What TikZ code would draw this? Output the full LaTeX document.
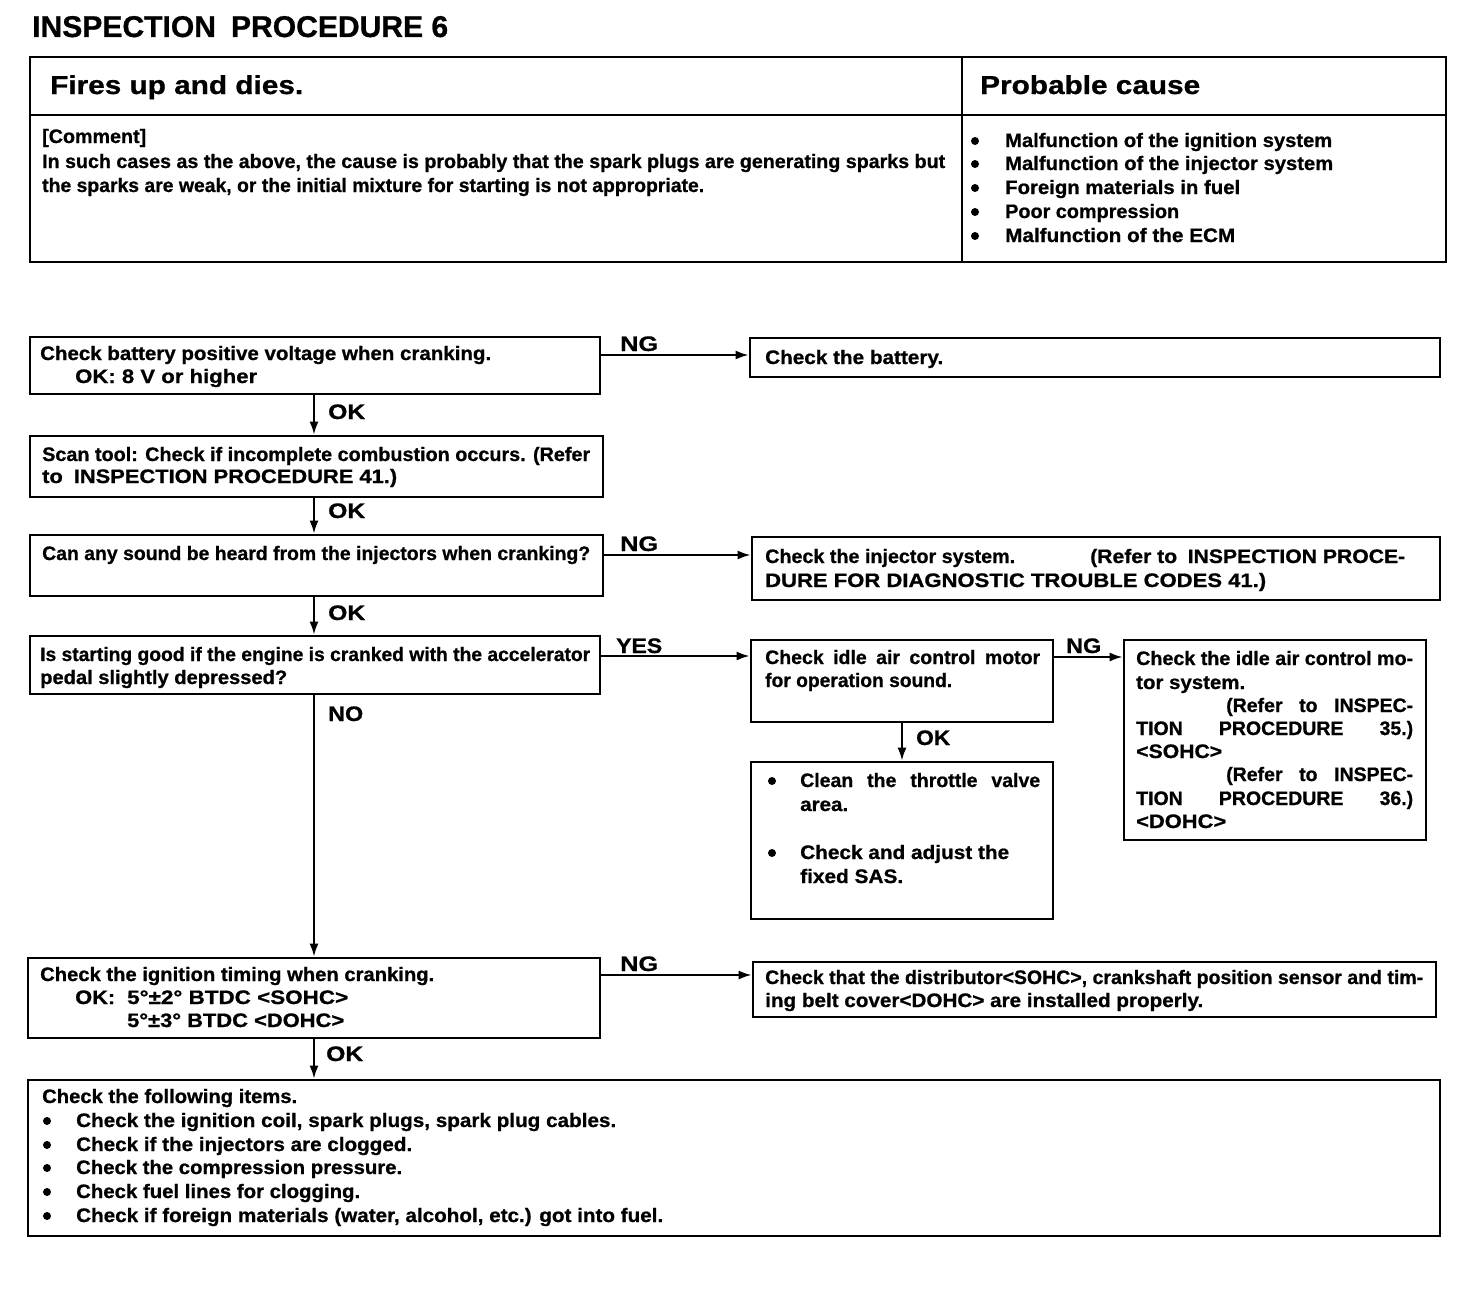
\documentclass[tikz,border=0pt]{standalone}
\usepackage{fontspec}
\setmainfont{Liberation Sans}[BoldFeatures={FakeBold=0.8}]
\usepackage{graphicx}
\usetikzlibrary{fit,arrows.meta}
\newsavebox\fitbox
\newdimen\fitdim
\newcommand\fitto[2]{\sbox\fitbox{#2}\fitdim=\wd\fitbox\pgfmathsetmacro\fitr{#1/\fitdim}\scalebox{\fitr}[1]{\usebox\fitbox}}
\newcommand\tline[5]{\node[txt] (#1) at (#2,#3) {\fitto{#4}{#5}};}
\newcommand\jline[5]{\node[txt] (#1) at (#2,#3) {\makebox[#4pt][s]{#5}};}
\newcommand\lab[5]{\node[labstyle] (#1) at (#2,#3) {\fitto{#4}{#5}};}
\begin{document}
\begin{tikzpicture}[x=1pt,y=-1pt,
  txt/.style={anchor=base west, inner sep=0pt, font=\bfseries\fontsize{19.5}{23}\selectfont},
  labstyle/.style={anchor=base west, inner sep=0pt, font=\bfseries\fontsize{21}{24}\selectfont},
  box/.style={draw, line width=2.8pt, inner sep=0pt, rectangle},
  arr/.style={line width=2pt, -{Latex[length=13pt,width=9pt]}},
  ln/.style={line width=2pt}]
\useasboundingbox (0,0) rectangle (1472,1298);
\fill[white] (0,0) rectangle (1472,1298);

% title
\node[anchor=base west, inner sep=0pt, font=\bfseries\fontsize{30}{34}\selectfont] (title) at (32,37) {\fitto{416}{INSPECTION\enspace PROCEDURE 6}};

% table
\node[box, fit={(30,57) (962,115)}] (h1) {};
\node[box, fit={(962,57) (1446,115)}] (h2) {};
\node[box, fit={(30,115) (962,262)}] (c1) {};
\node[box, fit={(962,115) (1446,262)}] (c2) {};
\node[anchor=base west, inner sep=0pt, font=\bfseries\fontsize{26}{30}\selectfont] (hd1) at (50,94) {\fitto{253}{Fires up and dies.}};
\node[anchor=base west, inner sep=0pt, font=\bfseries\fontsize{26}{30}\selectfont] (hd2) at (980,94) {\fitto{220}{Probable cause}};
\tline{cm1}{42}{143}{104}{[Comment]}
\tline{cm2}{42}{168}{903}{In such cases as the above, the cause is probably that the spark plugs are generating sparks but}
\tline{cm3}{42}{192}{662}{the sparks are weak, or the initial mixture for starting is not appropriate.}
\foreach \yy in {141,164,188,212,236} \fill (975,\yy) circle (4pt);
\tline{pc1}{1005}{147}{327}{Malfunction of the ignition system}
\tline{pc2}{1005}{170}{328}{Malfunction of the injector system}
\tline{pc3}{1005}{194}{235}{Foreign materials in fuel}
\tline{pc4}{1005}{218}{174}{Poor compression}
\tline{pc5}{1005}{242}{230}{Malfunction of the ECM}

% flow boxes
\node[box, fit={(30,337) (600,394)}] (b1) {};
\node[box, fit={(750,338) (1440,377)}] (r1) {};
\node[box, fit={(30,436) (603,497)}] (b2) {};
\node[box, fit={(30,535) (603,596)}] (b3) {};
\node[box, fit={(752,537) (1440,600)}] (r3) {};
\node[box, fit={(30,636) (600,694)}] (b4) {};
\node[box, fit={(751,640) (1053,722)}] (idle) {};
\node[box, fit={(1124,640) (1426,840)}] (iac) {};
\node[box, fit={(751,762) (1053,919)}] (clean) {};
\node[box, fit={(28,958) (600,1038)}] (b5) {};
\node[box, fit={(753,962) (1436,1017)}] (r5) {};
\node[box, fit={(28,1080) (1440,1236)}] (b6) {};

% box texts
\tline{t11}{40}{360}{451}{Check battery positive voltage when cranking.}
\tline{t12}{75}{383}{182}{OK: 8 V or higher}
\tline{tr1}{765}{364}{178}{Check the battery.}
\tline{t21}{42}{461}{548}{Scan tool: Check if incomplete combustion occurs. (Refer}
\tline{t22}{42}{483}{355}{to\enspace INSPECTION PROCEDURE 41.)}
\tline{t31}{42}{560}{548}{Can any sound be heard from the injectors when cranking?}
\tline{tr31a}{765}{563}{250}{Check the injector system.}
\tline{tr31b}{1090}{563}{315}{(Refer to\enspace INSPECTION PROCE-}
\tline{tr32}{765}{587}{501}{DURE FOR DIAGNOSTIC TROUBLE CODES 41.)}
\tline{t41}{40}{661}{550}{Is starting good if the engine is cranked with the accelerator}
\tline{t42}{40}{684}{247}{pedal slightly depressed?}
\jline{ti1}{765}{664}{275}{Check idle air control motor}
\tline{ti2}{765}{687}{187}{for operation sound.}
\tline{ta1}{1136}{665}{277}{Check the idle air control mo-}
\tline{ta2}{1136}{689}{109}{tor system.}
\jline{ta3}{1226}{712}{187}{(Refer to INSPEC-}
\jline{ta4}{1136}{735}{277}{TION PROCEDURE 35.)}
\tline{ta5}{1136}{758}{86}{<SOHC>}
\jline{ta6}{1226}{781}{187}{(Refer to INSPEC-}
\jline{ta7}{1136}{805}{277}{TION PROCEDURE 36.)}
\tline{ta8}{1136}{828}{90}{<DOHC>}
\fill (772,781) circle (4pt);
\fill (772,853) circle (4pt);
\jline{tc1}{800}{787}{240}{Clean the throttle valve}
\tline{tc2}{800}{811}{48}{area.}
\tline{tc3}{800}{859}{209}{Check and adjust the}
\tline{tc4}{800}{883}{103}{fixed SAS.}
\tline{t51}{40}{981}{394}{Check the ignition timing when cranking.}
\tline{t52a}{75}{1004}{40}{OK:}
\tline{t52b}{127}{1004}{221}{5°±2° BTDC <SOHC>}
\tline{t53}{127}{1027}{217}{5°±3° BTDC <DOHC>}
\tline{tr51}{765}{984}{658}{Check that the distributor<SOHC>, crankshaft position sensor and tim-}
\tline{tr52}{765}{1007}{438}{ing belt cover<DOHC> are installed properly.}
\tline{t60}{42}{1103}{255}{Check the following items.}
\foreach \yy in {1121,1145,1168,1192,1216} \fill (47,\yy) circle (4pt);
\tline{t61}{76}{1127}{540}{Check the ignition coil, spark plugs, spark plug cables.}
\tline{t62}{76}{1151}{336}{Check if the injectors are clogged.}
\tline{t63}{76}{1174}{326}{Check the compression pressure.}
\tline{t64}{76}{1198}{284}{Check fuel lines for clogging.}
\tline{t65}{76}{1222}{587}{Check if foreign materials (water, alcohol, etc.) got into fuel.}

% connectors
\coordinate (spine) at (314,0);
\coordinate (y1) at (0,355);
\coordinate (y3) at (0,555);
\coordinate (y4) at (0,656);
\coordinate (yi) at (0,657);
\coordinate (y5) at (0,975);
\draw[arr] (b1.south -| spine) -- (b2.north -| spine);
\draw[arr] (b2.south -| spine) -- (b3.north -| spine);
\draw[arr] (b3.south -| spine) -- (b4.north -| spine);
\draw[arr] (b4.south -| spine) -- (b5.north -| spine);
\draw[arr] (b5.south -| spine) -- (b6.north -| spine);
\draw[arr] (b1.east |- y1) -- (r1.west |- y1);
\draw[arr] (b3.east |- y3) -- (r3.west |- y3);
\draw[arr] (b4.east |- y4) -- (idle.west |- y4);
\draw[arr] (idle.east |- yi) -- (iac.west |- yi);
\draw[arr] (b5.east |- y5) -- (r5.west |- y5);
\draw[arr] (idle.south) -- (clean.north);

% labels
\lab{ng1}{620}{351}{38}{NG}
\lab{ok1}{328}{419}{37}{OK}
\lab{ok2}{328}{518}{37}{OK}
\lab{ng3}{620}{551}{38}{NG}
\lab{ok3}{328}{620}{37}{OK}
\lab{yes}{616}{653}{46}{YES}
\lab{no}{328}{721}{35}{NO}
\lab{oki}{916}{745}{34}{OK}
\lab{ngi}{1066}{653}{35}{NG}
\lab{ng5}{620}{971}{38}{NG}
\lab{ok5}{326}{1061}{37}{OK}
\end{tikzpicture}
\end{document}
